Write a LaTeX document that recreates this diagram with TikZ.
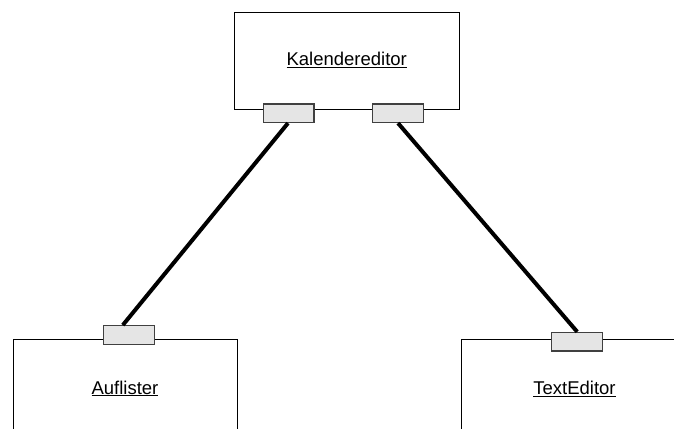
\documentclass[tikz,border=0pt]{standalone}
\usepackage{fontspec}
\setmainfont{Liberation Sans}
\begin{document}
\begin{tikzpicture}[x=1pt,y=-1pt,
  component/.style={draw=black,line width=1pt,fill=white,inner sep=0pt},
  port/.style={draw=black!75,line width=1.2pt,fill=black!10,inner sep=0pt,
    minimum width=50.7pt,minimum height=18.6pt},
  wire/.style={line width=4pt,black},
  title/.style={anchor=base,font=\fontsize{18.5}{20}\selectfont,inner sep=0pt}]
\useasboundingbox (0,0) rectangle (674,428);
\clip (0,0) rectangle (674,428);
% components
\node[component,minimum width=224.6pt,minimum height=96.7pt] (kal) at (346.7,60.7) {};
\node[component,minimum width=224.6pt,minimum height=120pt,anchor=north west] (auf) at (12.7,339.3) {};
\node[component,minimum width=260pt,minimum height=120pt,anchor=north west] (ted) at (461,338.7) {};
% names
\node[title] (kaltxt) at (346.7,65.7) {\underline{Kalendereditor}};
\node[title] (auftxt) at (125,394) {\underline{Auflister}};
\node[title] (tedtxt) at (574.5,394.7) {\underline{TextEditor}};
% ports
\node[port] (pk1) at (288.7,113.2) {};
\node[port] (pk2) at (398,113.2) {};
\node[port] (pa) at (128.8,335) {};
\node[port] (pt) at (577.2,341.7) {};
% connectors
\draw[wire] ([xshift=-0.7pt]pk1.south) -- ([xshift=-6pt]pa.north);
\draw[wire] (pk2.south) -- (pt.north);
\end{tikzpicture}
\end{document}
